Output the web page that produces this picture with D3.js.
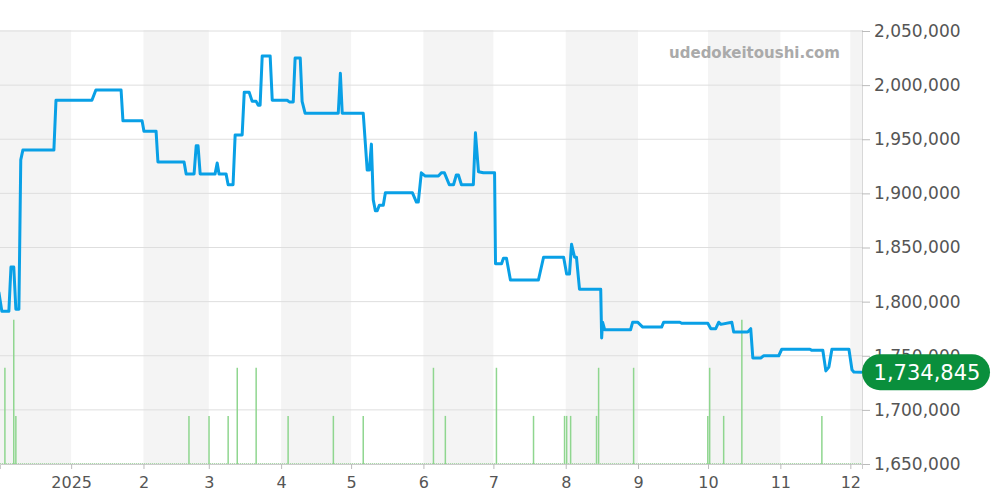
<!DOCTYPE html>
<html><head><meta charset="utf-8">
<script src="https://cdn.jsdelivr.net/npm/d3@7"></script>
<style>body{margin:0;background:#fff}svg{display:block;font-family:"DejaVu Sans",sans-serif}</style>
</head><body><svg id="c" width="1000" height="500"></svg>
<script>
// day offsets from 2024-12-01
const priceDays = [0,1.3,4.3,5.2,6.4,7.3,8.6,9.4,10.3,23.6,24.5,39.9,41.6,52.4,53.2,61.4,62.2,67.4,68.2,79.4,80.3,83.7,84.6,85.4,86.3,92.7,93.6,94.4,97.4,98.3,100.4,101.3,104.3,105.2,107.3,108.6,110.3,111.2,112.0,112.9,116.3,117.2,123.6,124.5,126.2,127.0,129.2,130.0,131.3,145.5,146.4,147.2,156.2,157.9,158.8,159.7,160.5,161.4,162.2,163.1,164.8,165.7,177.3,179.0,179.8,181.1,182.8,188.4,189.7,191.0,193.1,194.9,196.1,197.0,198.3,203.4,204.3,205.6,207.7,212.5,212.9,215.5,216.3,217.6,219.3,231.3,233.5,242.1,243.4,244.6,245.5,246.8,247.6,248.9,258.0,258.4,258.8,259.7,270.8,271.7,273.8,276.0,284.1,285.0,291.9,292.7,303.9,305.2,307.3,308.6,309.5,314.2,315.0,321.0,322.3,323.2,326.6,327.9,334.3,335.6,347.7,348.5,353.2,354.5,355.8,357.1,364.4,365.7,366.5,370];
const priceValues = [1809000,1791000,1791000,1832000,1832000,1793000,1793000,1931000,1940000,1940000,1986000,1986000,1995500,1995500,1967000,1967000,1957500,1957500,1929000,1929000,1918000,1918000,1944000,1944000,1918000,1918000,1928000,1918000,1918000,1908000,1908000,1954000,1954000,1993500,1993500,1985000,1985000,1981500,1981500,2027000,2027000,1986000,1986000,1984500,1984500,2025000,2025000,1985000,1974000,1974000,2011000,1974000,1974000,1921500,1921500,1945500,1894000,1884000,1884000,1889000,1889000,1900500,1900500,1892000,1892000,1919000,1916000,1916000,1919000,1919000,1908000,1908000,1917000,1917000,1908000,1908000,1956000,1920000,1919000,1919000,1835000,1835000,1840000,1840000,1820000,1820000,1841000,1841000,1825500,1825500,1853000,1841000,1841000,1811500,1811500,1766500,1781000,1774000,1774000,1781000,1781000,1776500,1776500,1781000,1781000,1780000,1780000,1775000,1775000,1781000,1779000,1781000,1772000,1772000,1775000,1748000,1748000,1750000,1750000,1756000,1756000,1755000,1755000,1736000,1739500,1756000,1756000,1737000,1735000,1734845];
const volumeDays = [2.6,6.4,7.3,81.5,90.1,98.3,102.2,110.3,124.0,143.4,156.2,186.3,191.4,213.3,229.2,242.5,243.4,245.1,256.2,257.1,272.1,303.9,304.7,310.7,318.5,352.8];
const volumeValues = [2,3,1,1,1,1,2,2,1,1,1,2,1,2,1,1,1,1,1,2,2,1,2,1,3,1];
const yTicks = [1650000,1700000,1750000,1800000,1850000,1900000,1950000,2000000,2050000];
const lastPrice = 1734845;

const start = new Date(2024,11,1);
const toDate = d => new Date(start.getTime() + d*86400000);
const svg = d3.select("#c");
const L=0,R=862,T=31,B=464;
const x = d3.scaleTime().domain([toDate(0.5), toDate(370)]).range([L,R]);
const y = d3.scaleLinear().domain([1650000,2050000]).range([B,T]);
const yv = d3.scaleLinear().domain([0,9]).range([B,T]);

const months = d3.timeMonth.range(start, toDate(371));
months.forEach((m,i)=>{
  if(i%2===0){
    const e = d3.timeMonth.offset(m,1);
    const x0 = Math.max(x(m),L);
    svg.append("rect").attr("x",x0).attr("y",T-1).attr("width",Math.min(x(e),R)-x0).attr("height",B-T+1).attr("fill","#f4f4f4");
  }
});
svg.append("g").selectAll("line").data(yTicks).join("line")
  .attr("x1",L).attr("x2",R).attr("y1",d=>y(d)).attr("y2",d=>y(d)).attr("stroke","#dedede").attr("stroke-width",1);
svg.append("line").attr("x1",R+0.5).attr("x2",R+0.5).attr("y1",T-1).attr("y2",B).attr("stroke","#d8d8d8");

const ya = svg.append("g").attr("transform",`translate(${R},0)`).call(d3.axisRight(y).tickValues(yTicks).tickSize(8).tickPadding(4).tickFormat(d3.format(",")));
ya.select(".domain").remove();
ya.selectAll("line").attr("stroke","#bbb");
ya.selectAll("text").attr("fill","#555").attr("font-size",17).attr("font-family","DejaVu Sans");

const xa = svg.append("g").attr("transform",`translate(0,${B})`).call(d3.axisBottom(x).tickValues(months.slice(1)).tickSize(5).tickPadding(8)
  .tickFormat(d=>d.getMonth()===0? "2025" : String(d.getMonth()+1)));
xa.select(".domain").attr("stroke","#ccc");
xa.selectAll("line").attr("stroke","#bbb");
xa.selectAll("text").attr("fill","#555").attr("font-size",16).attr("font-family","DejaVu Sans");

svg.append("line").attr("x1",L).attr("x2",R).attr("y1",B-0.5).attr("y2",B-0.5).attr("stroke","#a8dca8").attr("stroke-dasharray","1,1");
svg.append("g").selectAll("line").data(volumeDays).join("line")
  .attr("x1",(d)=>x(toDate(d))).attr("x2",(d)=>x(toDate(d)))
  .attr("y1",B).attr("y2",(d,i)=>yv(volumeValues[i])).attr("stroke","#8fd68f").attr("stroke-width",1.5);

svg.append("text").attr("x",840).attr("y",58).attr("text-anchor","end").attr("fill","#aaa").attr("font-weight","bold").attr("font-size",15).text("udedokeitoushi.com");

const pts = priceDays.map((d,i)=>[toDate(d),priceValues[i]]);
svg.append("path").datum(pts).attr("fill","none").attr("stroke","#09a0e6").attr("stroke-width",3).attr("stroke-linejoin","round")
  .attr("d",d3.line().x(d=>x(d[0])).y(d=>y(d[1])));

const by = y(lastPrice);
svg.append("rect").attr("x",862).attr("y",by-18).attr("width",128).attr("height",36).attr("rx",18).attr("fill","#0a8f3c");
svg.append("text").attr("x",927).attr("y",by+8).attr("text-anchor","middle").attr("fill","#fff").attr("font-size",21).text(d3.format(",")(lastPrice));
</script></body></html>
